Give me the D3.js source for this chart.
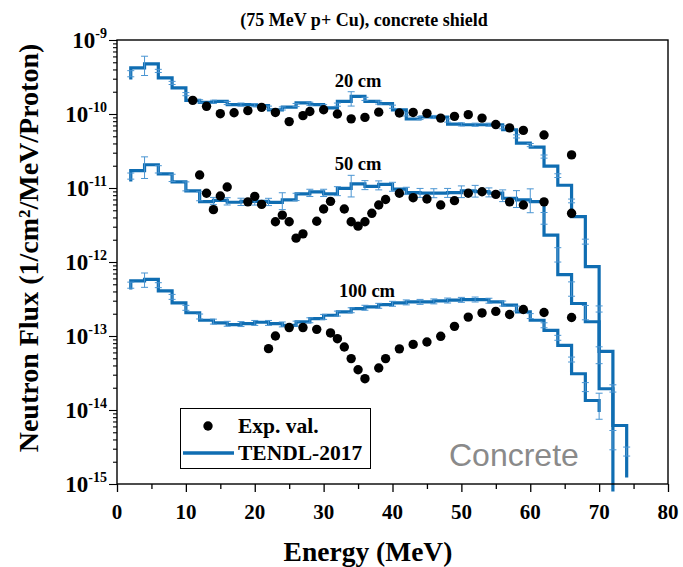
<!DOCTYPE html>
<html>
<head>
<meta charset="utf-8">
<script src="https://cdn.jsdelivr.net/npm/d3@7"></script>
<style>
  body { margin: 0; background: #fff; }
  svg { display: block; }
</style>
</head>
<body>
<svg id="chart" width="683" height="567"></svg>
<script>
// ---- Data -------------------------------------------------------------
// Histogram bin edges (MeV); each TENDL series gives one flux level per bin.
const energyEdges = [2, 4, 6, 8, 10, 12, 14, 16, 18, 20, 22, 24, 26, 28, 30, 32, 34, 36,
                     38, 40, 42, 44, 46, 48, 50, 52, 54, 56, 58, 60, 62, 64, 66, 68, 70, 72, 74];

// TENDL-2017, 20 cm (bins 2-74 MeV)
const tendl20 = [4.20e-10, 4.76e-10, 3.07e-10, 2.25e-10, 1.53e-10, 1.44e-10, 1.48e-10, 1.34e-10,
                 1.34e-10, 1.30e-10, 1.14e-10, 1.24e-10, 1.41e-10, 1.34e-10, 1.21e-10, 1.48e-10,
                 1.73e-10, 1.48e-10, 1.38e-10, 1.14e-10, 8.56e-11, 9.11e-11, 9.11e-11, 7.32e-11,
                 7.16e-11, 7.16e-11, 7.16e-11, 6.13e-11, 4.05e-11, 3.57e-11, 1.98e-11, 1.09e-11,
                 4.10e-12, 8.66e-13, 6.20e-14, 6.17e-15];
const tendl20Start = 2.92e-10;
const tendl20End = 1.22e-15;
const tendl20Err = [0.10, 0.35, 0.05, 0.05, 0.05, 0.05, 0.05, 0.05, 0.05, 0.05, 0.05, 0.05, 0.05,
                    0.05, 0.05, 0.05, 0.25, 0.05, 0.05, 0.05, 0.05, 0.05, 0.05, 0.05, 0.05, 0.05,
                    0.05, 0.05, 0.05, 0.05, 0.05, 0.06, 0.06, 0.08, 0.10, 0.12, 0.15];

// TENDL-2017, 50 cm (bins 2-72 MeV)
const tendl50 = [1.72e-11, 2.06e-11, 1.55e-11, 1.21e-11, 9.14e-12, 6.54e-12, 6.79e-12, 6.42e-12,
                 6.58e-12, 6.58e-12, 6.38e-12, 6.90e-12, 8.32e-12, 8.86e-12, 8.32e-12, 9.88e-12,
                 1.137e-11, 1.051e-11, 1.119e-11, 9.63e-12, 8.66e-12, 8.50e-12, 8.50e-12, 8.66e-12,
                 9.14e-12, 8.94e-12, 8.50e-12, 7.27e-12, 6.90e-12, 6.54e-12, 2.31e-12, 6.75e-13,
                 2.75e-13, 1.557e-13, 1.938e-14];
const tendl50Start = 1.22e-11;
const tendl50End = 7.9e-16;
const tendl50Err = [0.10, 0.40, 0.12, 0.12, 0.15, 0.15, 0.12, 0.12, 0.12, 0.12, 0.12, 0.30, 0.12,
                    0.12, 0.12, 0.15, 0.40, 0.15, 0.15, 0.15, 0.12, 0.15, 0.15, 0.15, 0.20, 0.20,
                    0.15, 0.20, 0.30, 0.45, 0.20, 0.25, 0.25, 0.25, 0.30, 0.35];

// TENDL-2017, 100 cm (bins 2-70 MeV)
const tendl100 = [5.56e-13, 5.81e-13, 4.07e-13, 2.80e-13, 2.06e-13, 1.632e-13, 1.50e-13, 1.427e-13,
                  1.472e-13, 1.533e-13, 1.472e-13, 1.396e-13, 1.548e-13, 1.72e-13, 1.908e-13, 2.114e-13,
                  2.35e-13, 2.47e-13, 2.65e-13, 2.80e-13, 2.89e-13, 2.89e-13, 2.98e-13, 3.05e-13,
                  3.11e-13, 3.11e-13, 2.89e-13, 2.61e-13, 2.114e-13, 1.632e-13, 1.195e-13, 7.48e-14,
                  3.09e-14, 1.345e-14];
const tendl100Start = 4.25e-13;
const tendl100End = 9.4e-15;
const tendl100Err = [0.10, 0.25, 0.08, 0.08, 0.08, 0.08, 0.08, 0.08, 0.08, 0.08, 0.08, 0.08, 0.08,
                     0.08, 0.08, 0.08, 0.08, 0.08, 0.08, 0.08, 0.08, 0.08, 0.08, 0.08, 0.08, 0.08,
                     0.08, 0.08, 0.08, 0.08, 0.08, 0.08, 0.08, 0.15, 0.50];

// Measured values
const exp20E = [11, 13, 15, 17, 19, 21, 23, 25, 27, 28, 30, 32, 34, 36, 38, 41, 43, 45, 47, 49,
                51, 53, 55, 57, 59, 62, 66];
const exp20 = [1.53e-10, 1.27e-10, 1.01e-10, 1.04e-10, 1.11e-10, 1.23e-10, 1.05e-10, 7.9e-11,
               9.5e-11, 1.08e-10, 1.14e-10, 1.0e-10, 8.6e-11, 9.0e-11, 1.06e-10, 1.03e-10,
               1.05e-10, 1.02e-10, 8.8e-11, 9.3e-11, 9.8e-11, 8.8e-11, 7.2e-11, 6.5e-11,
               6.0e-11, 5.2e-11, 2.8e-11];

const exp50E = [12, 13, 14, 15, 16, 19, 20, 21, 23, 24, 25, 26, 27, 29, 30, 31, 33, 34, 35, 36,
                37, 38, 39, 41, 43, 45, 47, 49, 51, 53, 55, 57, 59, 62, 66];
const exp50 = [1.50e-11, 8.5e-12, 5.1e-12, 7.8e-12, 1.03e-11, 6.5e-12, 7.7e-12, 6.0e-12, 3.5e-12,
               4.3e-12, 3.5e-12, 2.1e-12, 2.4e-12, 3.55e-12, 5.2e-12, 6.6e-12, 5.2e-12, 3.5e-12,
               3.05e-12, 3.5e-12, 4.55e-12, 5.9e-12, 7.0e-12, 8.5e-12, 7.4e-12, 7.1e-12, 5.9e-12,
               6.75e-12, 8.5e-12, 8.9e-12, 8.2e-12, 6.5e-12, 5.9e-12, 6.5e-12, 4.55e-12];

const exp100E = [22, 23, 25, 27, 29, 31, 32, 33, 34, 35, 36, 38, 39, 41, 43, 45, 47, 49, 51, 53,
                 55, 57, 59, 62, 66];
const exp100 = [6.75e-14, 1.0e-13, 1.3e-13, 1.3e-13, 1.23e-13, 1.1e-13, 9.2e-14, 7.1e-14, 4.95e-14,
                3.5e-14, 2.65e-14, 3.7e-14, 4.95e-14, 6.7e-14, 7.7e-14, 8.3e-14, 9.9e-14, 1.35e-13,
                1.8e-13, 2.05e-13, 2.15e-13, 1.95e-13, 2.28e-13, 2.08e-13, 1.78e-13];

// Depth labels placed in data coordinates
const depthLabels = ["20 cm", "50 cm", "100 cm"];
const depthLabelE = [35, 35, 36.3];
const depthLabelFlux = [2.34e-10, 1.76e-11, 3.34e-13];

const xTicks = [0, 10, 20, 30, 40, 50, 60, 70, 80];
const xMinorTicks = [5, 15, 25, 35, 45, 55, 65, 75];
const yExponents = [-9, -10, -11, -12, -13, -14, -15];

// ---- Layout -----------------------------------------------------------
const svg = d3.select("#chart");
const plot = { left: 117, right: 668, top: 40, bottom: 484 };
const serif = '"Liberation Serif","Times New Roman",serif';
const lineColor = "#0f6db2";
const errColor = "#4a95d2";

const x = d3.scaleLinear().domain([0, 80]).range([plot.left, plot.right]);
const y = d3.scaleLog().domain([1e-15, 1e-9]).range([plot.bottom, plot.top]);

// ---- Axes -------------------------------------------------------------
const gx = svg.append("g").attr("transform", `translate(0,${plot.bottom})`);
gx.call(d3.axisBottom(x).tickValues(xTicks).tickSize(8).tickSizeOuter(0).tickFormat(""));
gx.append("g").call(d3.axisBottom(x).tickValues(xMinorTicks).tickSize(5).tickSizeOuter(0).tickFormat(""));
gx.selectAll(".domain").remove();
gx.selectAll("line").attr("stroke", "#000").attr("stroke-width", 1.3);

const yMajor = yExponents.map(e => Math.pow(10, e));
const yMinor = y.ticks().filter(v => !yMajor.some(m => Math.abs(v / m - 1) < 1e-6));
const gy = svg.append("g").attr("transform", `translate(${plot.left},0)`);
gy.call(d3.axisLeft(y).tickValues(yMajor).tickSize(8).tickSizeOuter(0).tickFormat(""));
gy.append("g").call(d3.axisLeft(y).tickValues(yMinor).tickSize(4).tickSizeOuter(0).tickFormat(""));
gy.selectAll(".domain").remove();
gy.selectAll("line").attr("stroke", "#000").attr("stroke-width", 1.1);

// X tick labels
svg.append("g").selectAll("text").data(xTicks).join("text")
  .attr("x", d => x(d)).attr("y", plot.bottom + 35)
  .attr("text-anchor", "middle")
  .attr("font-family", serif).attr("font-weight", "bold").attr("font-size", 21)
  .text(d => d);

// Y tick labels: 10 with superscript exponent
const yLab = svg.append("g").selectAll("text").data(yExponents).join("text")
  .attr("x", plot.left - 10).attr("y", d => y(Math.pow(10, d)) + 8)
  .attr("text-anchor", "end")
  .attr("font-family", serif).attr("font-weight", "bold").attr("font-size", 23);
yLab.append("tspan").text("10");
yLab.append("tspan").attr("dy", -10).attr("font-size", 14).text(d => String(d));

// Axis titles
svg.append("text")
  .attr("x", 368).attr("y", 561)
  .attr("text-anchor", "middle")
  .attr("font-family", serif).attr("font-weight", "bold").attr("font-size", 27.5)
  .text("Energy (MeV)");

svg.append("text")
  .attr("transform", "translate(38,248) rotate(-90)")
  .attr("text-anchor", "middle")
  .attr("font-family", serif).attr("font-weight", "bold").attr("font-size", 28)
  .text("Neutron Flux (1/cm\u00B2/MeV/Proton)");

// Title
svg.append("text")
  .attr("x", 364).attr("y", 26)
  .attr("text-anchor", "middle")
  .attr("font-family", serif).attr("font-weight", "bold").attr("font-size", 18)
  .text("(75 MeV p+ Cu), concrete shield");

// ---- TENDL step histograms ------------------------------------------
const series = [
  { levels: tendl20, start: tendl20Start, end: tendl20End, err: tendl20Err },
  { levels: tendl50, start: tendl50Start, end: tendl50End, err: tendl50Err },
  { levels: tendl100, start: tendl100Start, end: tendl100End, err: tendl100Err }
];

const stepLine = d3.line().x(d => x(d[0])).y(d => y(d[1])).curve(d3.curveStepAfter);

function stepPoints(s) {
  const pts = [[energyEdges[0], s.start]];
  s.levels.forEach((v, i) => pts.push([energyEdges[i], v]));
  pts.push([energyEdges[s.levels.length], s.end]);
  return pts;
}

// Error bars sit on each bin edge, centred on the riser between neighbouring levels
function edgeBars(s) {
  const n = s.levels.length;
  return s.err.map((r, k) => {
    const a = k === 0 ? s.start : s.levels[k - 1];
    const b = k === n ? s.end : s.levels[k];
    const c = Math.sqrt(a * b);
    return { e: energyEdges[k], lo: c / (1 + r), hi: c * (1 + r) };
  });
}

const gLines = svg.append("g");
series.forEach(s => {
  gLines.append("path")
    .attr("d", stepLine(stepPoints(s)))
    .attr("fill", "none")
    .attr("stroke", lineColor)
    .attr("stroke-width", 3.2)
    .attr("stroke-linejoin", "miter");
});

const gErr = svg.append("g").attr("stroke", errColor).attr("stroke-width", 1).attr("fill", "none");
series.forEach(s => {
  edgeBars(s).forEach(b => {
    const cx = x(b.e), y1 = y(b.hi), y2 = y(b.lo);
    gErr.append("line").attr("x1", cx).attr("x2", cx).attr("y1", y1).attr("y2", y2);
    gErr.append("line").attr("x1", cx - 3.5).attr("x2", cx + 3.5).attr("y1", y1).attr("y2", y1);
    gErr.append("line").attr("x1", cx - 3.5).attr("x2", cx + 3.5).attr("y1", y2).attr("y2", y2);
  });
});

// ---- Measured points --------------------------------------------------
const gDots = svg.append("g").attr("fill", "#000");
[[exp20E, exp20], [exp50E, exp50], [exp100E, exp100]].forEach(([es, vs]) => {
  gDots.selectAll(null).data(es.map((e, i) => [e, vs[i]])).join("circle")
    .attr("cx", d => x(d[0])).attr("cy", d => y(d[1])).attr("r", 4.7);
});

// Depth labels
svg.append("g").selectAll("text").data(depthLabels).join("text")
  .attr("x", (d, i) => x(depthLabelE[i]))
  .attr("y", (d, i) => y(depthLabelFlux[i]))
  .attr("text-anchor", "middle")
  .attr("font-family", serif).attr("font-weight", "bold").attr("font-size", 18.5)
  .text(d => d);

// Material tag
svg.append("text")
  .attr("x", 449).attr("y", 466)
  .attr("font-family", '"Liberation Sans", Arial, sans-serif').attr("font-size", 32)
  .attr("fill", "#8a8a8a")
  .text("Concrete");

// Plot frame
svg.append("rect")
  .attr("x", plot.left).attr("y", plot.top)
  .attr("width", plot.right - plot.left).attr("height", plot.bottom - plot.top)
  .attr("fill", "none").attr("stroke", "#000").attr("stroke-width", 1.4);

// ---- Legend -----------------------------------------------------------
const lg = svg.append("g");
lg.append("rect").attr("x", 180.5).attr("y", 408.5).attr("width", 190).attr("height", 60)
  .attr("fill", "#fff").attr("stroke", "#000").attr("stroke-width", 1);
lg.append("circle").attr("cx", 208).attr("cy", 426).attr("r", 4.7).attr("fill", "#000");
lg.append("line").attr("x1", 183).attr("x2", 234).attr("y1", 453).attr("y2", 453)
  .attr("stroke", lineColor).attr("stroke-width", 3.5);
lg.selectAll("text.lab").data(["Exp. val.", "TENDL-2017"]).join("text")
  .attr("class", "lab")
  .attr("x", 238).attr("y", (d, i) => 433 + i * 27)
  .attr("font-family", serif).attr("font-weight", "bold").attr("font-size", 21.5)
  .text(d => d);
</script>
</body>
</html>
